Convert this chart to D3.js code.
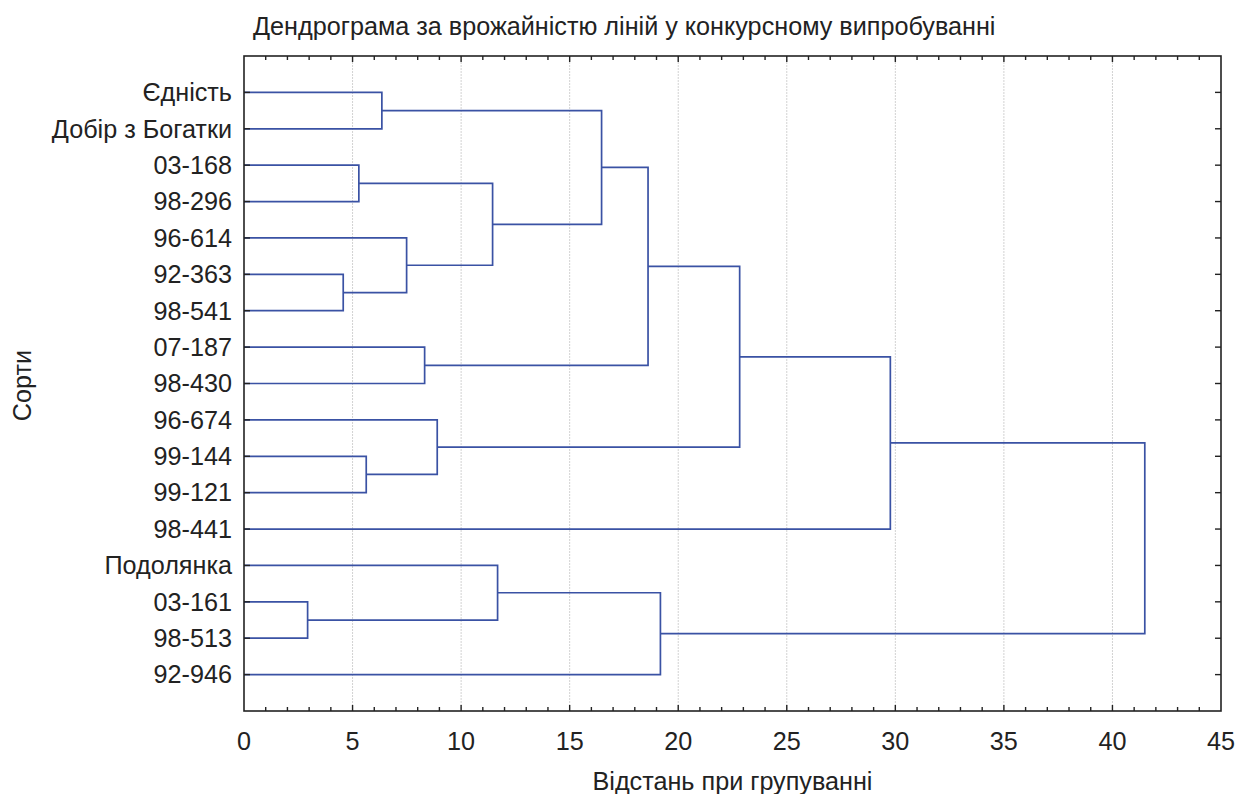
<!DOCTYPE html>
<html>
<head>
<meta charset="utf-8">
<script src="https://cdn.jsdelivr.net/npm/d3@7"></script>
<style>
  body { margin: 0; background: #fff; }
  text { font-family: "Liberation Sans", Arial, sans-serif; fill: #222; }
</style>
</head>
<body>
<script>
// leaves, top to bottom
const leaves = ["Єдність", "Добір з Богатки", "03-168", "98-296", "96-614", "92-363", "98-541",
  "07-187", "98-430", "96-674", "99-144", "99-121", "98-441", "Подолянка", "03-161", "98-513", "92-946"];

// merges: [id, left child, right child, linkage distance]; children are leaf names or merge ids
const merges = [
  ["m1", "Єдність", "Добір з Богатки", 6.35],
  ["m2", "03-168", "98-296", 5.29],
  ["m3", "92-363", "98-541", 4.57],
  ["m4", "96-614", "m3", 7.49],
  ["m5", "m2", "m4", 11.45],
  ["m6", "m1", "m5", 16.47],
  ["m7", "07-187", "98-430", 8.32],
  ["m8", "m6", "m7", 18.61],
  ["m9", "99-144", "99-121", 5.63],
  ["m10", "96-674", "m9", 8.90],
  ["m11", "m8", "m10", 22.83],
  ["m12", "m11", "98-441", 29.77],
  ["m13", "03-161", "98-513", 2.93],
  ["m14", "Подолянка", "m13", 11.68],
  ["m15", "m14", "92-946", 19.18],
  ["m16", "m12", "m15", 41.49]
];

const xTicks = [0, 5, 10, 15, 20, 25, 30, 35, 40, 45];

const width = 1238, height = 794;
const margin = { top: 56, right: 17, bottom: 83, left: 244 };
const x0 = margin.left, x1 = width - margin.right;
const y0 = margin.top, y1 = height - margin.bottom;
const fs = 25.2;

const svg = d3.select("body").append("svg").attr("width", width).attr("height", height);

const x = d3.scaleLinear().domain([0, 45]).range([x0, x1]);
const y = d3.scalePoint().domain(leaves).range([y0, y1]).padding(1);

// grid
svg.append("g").selectAll("line").data(xTicks.filter(d => d > 0 && d < 45)).join("line")
  .attr("x1", d => x(d)).attr("x2", d => x(d)).attr("y1", y0).attr("y2", y1)
  .attr("stroke", "#d2d2d2").attr("stroke-width", 1).attr("stroke-dasharray", "2,1");

// node positions
const pos = {};
leaves.forEach(l => pos[l] = { x: 0, y: y(l) });
const g = svg.append("g").attr("fill", "none").attr("stroke", "#3a52a4").attr("stroke-width", 1.7);
merges.forEach(([id, a, b, h]) => {
  const pa = pos[a], pb = pos[b];
  pos[id] = { x: h, y: (pa.y + pb.y) / 2 };
  g.append("path").attr("d", `M${x(pa.x)},${pa.y}H${x(h)}V${pb.y}H${x(pb.x)}`);
});

// frame
svg.append("rect").attr("x", x0).attr("y", y0).attr("width", x1 - x0).attr("height", y1 - y0)
  .attr("fill", "none").attr("stroke", "#222").attr("stroke-width", 1.6);

// x ticks (bottom and top, inward)
const minor = d3.range(1, 45).filter(d => d % 5 !== 0);
const tk = svg.append("g").attr("stroke", "#222").attr("stroke-width", 1.4);
[[y1, -1], [y0, 1]].forEach(([yy, dir]) => {
  tk.append("g").selectAll("line").data(minor).join("line")
    .attr("x1", d => x(d)).attr("x2", d => x(d)).attr("y1", yy).attr("y2", yy + dir * 4);
  tk.append("g").selectAll("line").data(xTicks.slice(1, -1)).join("line")
    .attr("x1", d => x(d)).attr("x2", d => x(d)).attr("y1", yy).attr("y2", yy + dir * 6);
});
// y ticks (left and right, inward)
[[x0, 1], [x1, -1]].forEach(([xx, dir]) => {
  tk.append("g").selectAll("line").data(leaves).join("line")
    .attr("x1", xx).attr("x2", xx + dir * 6).attr("y1", d => y(d)).attr("y2", d => y(d));
});

// x tick labels
svg.append("g").selectAll("text").data(xTicks).join("text")
  .attr("x", d => x(d)).attr("y", y1 + 39).attr("text-anchor", "middle")
  .attr("font-size", fs).text(d => d);

// leaf labels
svg.append("g").selectAll("text").data(leaves).join("text")
  .attr("x", x0 - 12).attr("y", d => y(d)).attr("dy", "0.35em").attr("text-anchor", "end")
  .attr("font-size", fs).text(d => d);

// titles
svg.append("text").attr("x", 253).attr("y", 35).attr("font-size", fs)
  .text("Дендрограма за врожайністю ліній у конкурсному випробуванні");
svg.append("text").attr("x", (x0 + x1) / 2).attr("y", 790).attr("text-anchor", "middle")
  .attr("font-size", fs).text("Відстань при групуванні");
svg.append("text").attr("transform", `translate(31,${(y0 + y1) / 2 + 2}) rotate(-90)`)
  .attr("text-anchor", "middle").attr("font-size", fs).text("Сорти");
</script>
</body>
</html>
